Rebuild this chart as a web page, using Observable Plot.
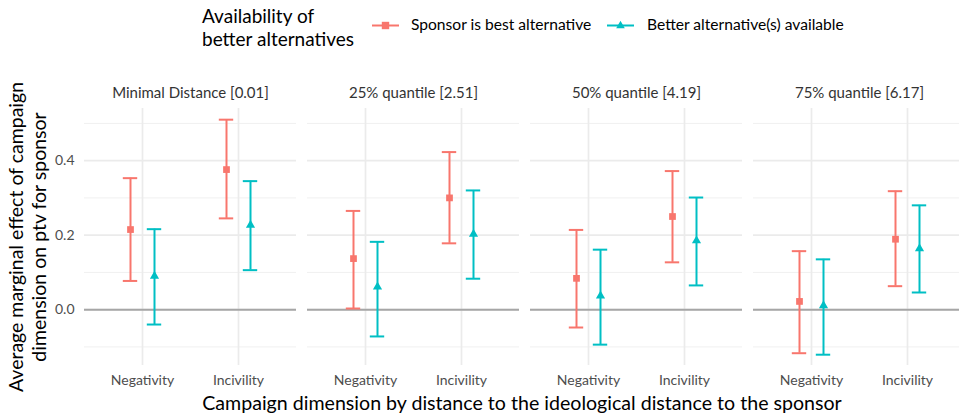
<!DOCTYPE html>
<html>
<head>
<meta charset="utf-8">
<script src="https://cdn.jsdelivr.net/npm/d3@7"></script>
<script src="https://cdn.jsdelivr.net/npm/@observablehq/plot@0.6"></script>
<style>
  html, body { margin: 0; padding: 0; background: #fff; overflow: hidden; }
  #wrap { position: relative; width: 959px; height: 413px; overflow: hidden; font-family: Lato, "Open Sans", sans-serif; }
  #chart { position: absolute; left: 0; top: 0; }
  .abs { position: absolute; white-space: nowrap; }
  #chart text { font-weight: 400; }
</style>
</head>
<body>
<div id="wrap">
  <div id="chart"></div>
  <div class="abs" id="legTitle" style="left:202px; top:4px; font-size:19px; line-height:23px; color:#000;">Availability of<br>better alternatives</div>
  <div id="legItems"></div>
  <div class="abs" id="ytitle" style="left:26.5px; top:236.5px; transform:translate(-50%,-50%) rotate(-90deg); font-size:19.5px; line-height:23px; text-align:center; color:#000;">Average marginal effect of campaign<br>dimension on ptv for sponsor</div>
  <div class="abs" id="xtitle" style="left:522px; top:402px; transform:translate(-50%,-50%); font-size:19.6px; color:#000;">Campaign dimension by distance to the ideological distance to the sponsor</div>
</div>
<script>
// ---- data ----
const facets = ["Minimal Distance [0.01]", "25% quantile [2.51]", "50% quantile [4.19]", "75% quantile [6.17]"];
const dims = ["Negativity", "Incivility"];
const groups = ["Sponsor is best alternative", "Better alternative(s) available"];
const colors = ["#F8766D", "#00BFC4"];
const symbols = ["square", "triangle"];
const yTicks = [0, 0.2, 0.4];
const yMinor = [-0.1, 0.1, 0.3, 0.5];
// order: facet-major, dimension-minor
const sponsorEst = [0.215, 0.376, 0.137, 0.300, 0.084, 0.250, 0.022, 0.189];
const sponsorLo  = [0.077, 0.245, 0.003, 0.178, -0.048, 0.127, -0.117, 0.063];
const sponsorHi  = [0.353, 0.510, 0.265, 0.423, 0.214, 0.372, 0.157, 0.318];
const betterEst  = [0.090, 0.227, 0.061, 0.203, 0.037, 0.185, 0.011, 0.164];
const betterLo   = [-0.040, 0.106, -0.072, 0.083, -0.094, 0.065, -0.121, 0.046];
const betterHi   = [0.216, 0.345, 0.182, 0.320, 0.161, 0.301, 0.135, 0.280];

function rowsFor(est, lo, hi, g) {
  return est.map((e, i) => ({
    facet: facets[Math.floor(i / 2)],
    dim: dims[i % 2],
    group: groups[g],
    est: e, lo: lo[i], hi: hi[i]
  }));
}
const series = [
  rowsFor(sponsorEst, sponsorLo, sponsorHi, 0),
  rowsFor(betterEst, betterLo, betterHi, 1)
];

const dodge = [-12, 12];
const capInset = 40.8;
const dotR = [3.8, 3.4];

const marks = [
  Plot.ruleY(yMinor, {stroke: "#f0f0f0", strokeWidth: 1}),
  Plot.ruleY(yTicks, {stroke: "#ebebeb", strokeWidth: 1.7}),
  Plot.ruleX(dims, {x: d => d, stroke: "#ebebeb", strokeWidth: 1.7}),
  Plot.ruleY([0], {stroke: "#a6a6a6", strokeWidth: 2}),
  Plot.axisY({ticks: yTicks, tickFormat: d3.format(".1f"), tickSize: 0, tickPadding: 10, label: null, fontSize: 14, fill: "#4d4d4d"}),
  Plot.axisX({tickSize: 0, tickPadding: 10, label: null, fontSize: 14, fill: "#4d4d4d"}),
  Plot.axisFx({anchor: "top", tickSize: 0, tickPadding: 11, label: null, fontSize: 15, fill: "#333333"})
];
series.forEach((rows, g) => {
  const c = colors[g];
  marks.push(
    Plot.ruleX(rows, {fx: "facet", x: "dim", y1: "lo", y2: "hi", stroke: c, strokeWidth: 2, dx: dodge[g]}),
    Plot.tickY(rows, {fx: "facet", x: "dim", y: "lo", stroke: c, strokeWidth: 2, dx: dodge[g], insetLeft: capInset, insetRight: capInset}),
    Plot.tickY(rows, {fx: "facet", x: "dim", y: "hi", stroke: c, strokeWidth: 2, dx: dodge[g], insetLeft: capInset, insetRight: capInset}),
    Plot.dot(rows, {fx: "facet", x: "dim", y: "est", symbol: symbols[g], fill: c, r: dotR[g], dx: dodge[g]})
  );
});

const chart = Plot.plot({
  width: 966,
  height: 413,
  marginLeft: 83,
  marginRight: 0,
  marginTop: 108,
  marginBottom: 48,
  style: {fontFamily: "Lato, 'Open Sans', sans-serif", maxWidth: "none", background: "transparent"},
  fx: {domain: facets, paddingInner: 0.049, paddingOuter: 0},
  x: {type: "band", domain: dims, paddingInner: 0, paddingOuter: 0.1},
  y: {domain: [-0.15, 0.54]},
  marks
});
document.getElementById("chart").appendChild(chart);

// ---- legend ----
const leg = document.getElementById("legItems");
const legPos = [{key: 372, text: 411}, {key: 607, text: 647}];
groups.forEach((g, i) => {
  const k = document.createElement("div");
  k.className = "abs";
  k.style.left = legPos[i].key + "px";
  k.style.top = "16px";
  const sym = i === 0
    ? `<rect x="9.8" y="3.8" width="7.4" height="7.4" fill="${colors[i]}"/>`
    : `<path d="M13.5,2.8 L17.8,10.3 L9.2,10.3 Z" fill="${colors[i]}"/>`;
  k.innerHTML = `<svg width="27" height="14"><line x1="0" x2="27" y1="7.5" y2="7.5" stroke="${colors[i]}" stroke-width="2"/>${sym}</svg>`;
  leg.appendChild(k);
  const t = document.createElement("div");
  t.className = "abs";
  t.style.left = legPos[i].text + "px";
  t.style.top = "14px";
  t.style.fontSize = "15.6px";
  t.style.lineHeight = "20px";
  t.style.color = "#000";
  t.textContent = g;
  leg.appendChild(t);
});
</script>
</body>
</html>
